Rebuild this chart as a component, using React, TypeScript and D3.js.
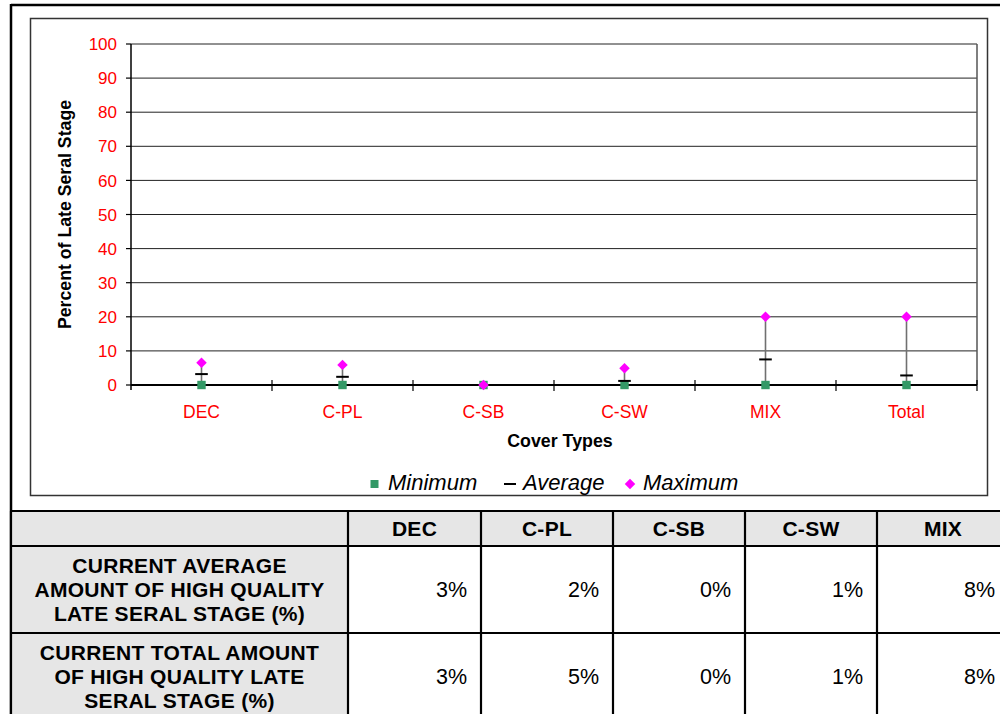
import React from "react";
import * as d3 from "d3";

// chart data
const categories = ["DEC", "C-PL", "C-SB", "C-SW", "MIX", "Total"];
const minimum = [0, 0, 0, 0, 0, 0];
const average = [3.2, 2.4, 0, 1.2, 7.5, 2.8];
const maximum = [6.5, 5.9, 0, 4.9, 20, 20];
const yTicks = [0, 10, 20, 30, 40, 50, 60, 70, 80, 90, 100];

// table data
const tableCols = ["DEC", "C-PL", "C-SB", "C-SW", "MIX"];
const avgRowLabel = ["CURRENT AVERAGE", "AMOUNT OF HIGH QUALITY", "LATE SERAL STAGE (%)"];
const totalRowLabel = ["CURRENT TOTAL AMOUNT", "OF HIGH QUALITY LATE", "SERAL STAGE (%)"];
const avgPct = ["3%", "2%", "0%", "1%", "8%"];
const totalPct = ["3%", "5%", "0%", "1%", "8%"];

const FONT = "'Liberation Sans', Arial, sans-serif";

const App = () => {
  const width = 1000,
    height = 714;

  const plot = { left: 131, right: 977, top: 44, bottom: 385 };

  const x = d3
    .scaleBand<string>()
    .domain(categories)
    .range([plot.left, plot.right]);
  const y = d3.scaleLinear().domain([0, 100]).range([plot.bottom, plot.top]);

  const diamond = d3.symbol().type(d3.symbolDiamond2).size(70)();

  // table layout
  const colEdges = [11, 348, 481, 613, 745, 877, 1009];
  const rowEdges = [511, 546, 633, 720];
  const rows = [
    { label: avgRowLabel, values: avgPct },
    { label: totalRowLabel, values: totalPct },
  ];

  return (
    <svg
      width={width}
      height={height}
      style={{ position: "absolute", left: 0, top: 0, fontFamily: FONT }}
    >
      <rect width={width} height={height} fill="#fff" />

      {/* outer frame */}
      <line x1={11} x2={1010} y1={5} y2={5} stroke="#000" strokeWidth={2.5} />
      <line x1={11} x2={11} y1={4} y2={714} stroke="#000" strokeWidth={2.5} />

      {/* chart area border */}
      <rect
        x={30.5}
        y={18.5}
        width={957}
        height={477}
        fill="none"
        stroke="#333"
        strokeWidth={1.5}
      />

      {/* gridlines */}
      {yTicks.map((t) => (
        <line
          key={"g" + t}
          x1={plot.left}
          x2={plot.right}
          y1={y(t)}
          y2={y(t)}
          stroke="#222"
          strokeWidth={1}
        />
      ))}
      {/* plot right border */}
      <line
        x1={plot.right}
        x2={plot.right}
        y1={plot.top}
        y2={plot.bottom}
        stroke="#555"
        strokeWidth={1.5}
      />

      {/* y axis */}
      <line
        x1={plot.left}
        x2={plot.left}
        y1={plot.top}
        y2={plot.bottom + 5}
        stroke="#000"
        strokeWidth={1.5}
      />
      {yTicks.map((t) => (
        <g key={"y" + t}>
          <line
            x1={plot.left - 5}
            x2={plot.left}
            y1={y(t)}
            y2={y(t)}
            stroke="#000"
            strokeWidth={1.2}
          />
          <text
            x={117}
            y={y(t)}
            dy="0.36em"
            textAnchor="end"
            fill="#ff0000"
            fontSize={17}
          >
            {t}
          </text>
        </g>
      ))}

      {/* x axis */}
      <line
        x1={plot.left}
        x2={plot.right}
        y1={plot.bottom}
        y2={plot.bottom}
        stroke="#000"
        strokeWidth={2}
      />
      {categories.map((c) => (
        <line
          key={"xt" + c}
          x1={(x(c) as number) + x.bandwidth()}
          x2={(x(c) as number) + x.bandwidth()}
          y1={plot.bottom - 5}
          y2={plot.bottom + 6}
          stroke="#000"
          strokeWidth={1.2}
        />
      ))}
      {categories.map((c) => (
        <text
          key={"xl" + c}
          x={(x(c) as number) + x.bandwidth() / 2}
          y={418}
          textAnchor="middle"
          fill="#ff0000"
          fontSize={17.5}
        >
          {c}
        </text>
      ))}

      {/* axis titles */}
      <text x={560} y={446.5} textAnchor="middle" fontWeight="bold" fontSize={17.8}>
        Cover Types
      </text>
      <text
        transform={`translate(71, ${(plot.top + plot.bottom) / 2}) rotate(-90)`}
        textAnchor="middle"
        fontWeight="bold"
        fontSize={17.7}
      >
        Percent of Late Seral Stage
      </text>

      {/* high-low lines and markers */}
      {categories.map((c, i) => {
        const cx = (x(c) as number) + x.bandwidth() / 2;
        return (
          <g key={"m" + c}>
            <line
              x1={cx}
              x2={cx}
              y1={y(minimum[i])}
              y2={y(maximum[i])}
              stroke="#707070"
              strokeWidth={1.6}
            />
            <rect
              x={cx - 4.2}
              y={y(minimum[i]) - 4.2}
              width={8.4}
              height={8.4}
              fill="#339966"
            />
            <line
              x1={cx - 6.3}
              x2={cx + 6.3}
              y1={y(average[i])}
              y2={y(average[i])}
              stroke="#000"
              strokeWidth={2}
            />
            <path
              d={diamond as string}
              transform={`translate(${cx}, ${y(maximum[i])})`}
              fill="#ff00ff"
            />
          </g>
        );
      })}

      {/* legend */}
      <rect x={370.5} y={480} width={8} height={8} fill="#339966" />
      <text x={388} y={489.5} fontStyle="italic" fontSize={22}>
        Minimum
      </text>
      <line x1={504} x2={516} y1={484} y2={484} stroke="#000" strokeWidth={2} />
      <text x={523} y={489.5} fontStyle="italic" fontSize={22}>
        Average
      </text>
      <path d={diamond as string} transform="translate(630, 484)" fill="#ff00ff" />
      <text x={643} y={489.5} fontStyle="italic" fontSize={22}>
        Maximum
      </text>

      {/* table */}
      <rect
        x={colEdges[0]}
        y={rowEdges[0]}
        width={1000}
        height={rowEdges[1] - rowEdges[0]}
        fill="#e6e6e6"
      />
      <rect
        x={colEdges[0]}
        y={rowEdges[1]}
        width={colEdges[1] - colEdges[0]}
        height={rowEdges[3] - rowEdges[1]}
        fill="#e6e6e6"
      />
      {tableCols.map((c, j) => (
        <text
          key={"th" + c}
          x={(colEdges[j + 1] + colEdges[j + 2]) / 2}
          y={536}
          textAnchor="middle"
          fontWeight="bold"
          fontSize={21}
          letterSpacing={0.3}
        >
          {c}
        </text>
      ))}
      {rows.map((r, ri) => (
        <g key={"row" + ri}>
          {r.label.map((line, li) => (
            <text
              key={li}
              x={(colEdges[0] + colEdges[1]) / 2}
              y={rowEdges[ri + 1] + 26.5 + li * 24}
              textAnchor="middle"
              fontWeight="bold"
              fontSize={21}
              letterSpacing={0.3}
            >
              {line}
            </text>
          ))}
          {r.values.map((v, j) => (
            <text
              key={"v" + j}
              x={colEdges[j + 2] - 14}
              y={(rowEdges[ri + 1] + rowEdges[ri + 2]) / 2 + 7.5}
              textAnchor="end"
              fontSize={21.5}
            >
              {v}
            </text>
          ))}
        </g>
      ))}
      {rowEdges.slice(0, 3).map((ry) => (
        <line key={"tr" + ry} x1={10} x2={1010} y1={ry} y2={ry} stroke="#000" strokeWidth={2.2} />
      ))}
      {colEdges.map((cx) => (
        <line
          key={"tc" + cx}
          x1={cx}
          x2={cx}
          y1={rowEdges[0]}
          y2={rowEdges[3]}
          stroke="#000"
          strokeWidth={2.2}
        />
      ))}
    </svg>
  );
};

export default App;
